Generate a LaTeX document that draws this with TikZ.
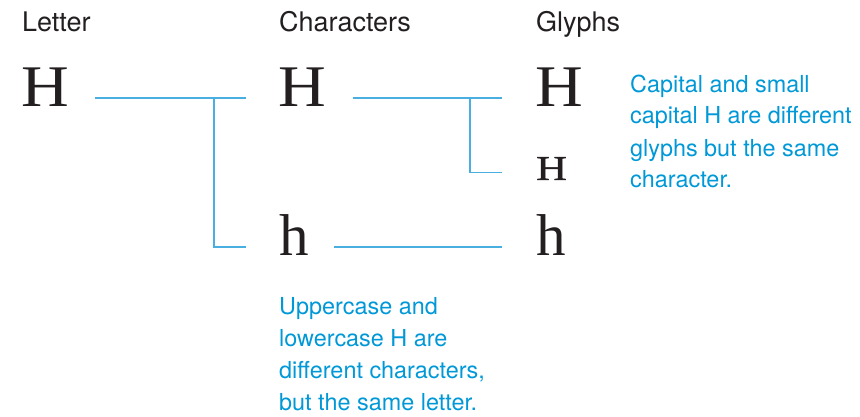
\documentclass[tikz,border=0pt]{standalone}
\usepackage{fontspec}
\setsansfont{TeX Gyre Heros}
\newfontfamily\formwide[FakeStretch=1.12]{Liberation Serif}
\newfontfamily\formnarrow{Liberation Serif}
\newfontfamily\formsmall[FakeStretch=1.22,FakeBold=1.2]{Liberation Serif}
\definecolor{ink}{HTML}{231F20}
\definecolor{notecyan}{RGB}{0,152,214}
\definecolor{rulecyan}{RGB}{72,175,224}

\begin{document}
\begin{tikzpicture}[
  x=1pt,
  y=-1pt,
  head/.style={font=\sffamily\fontsize{27}{27}\selectfont,text=ink,anchor=base west,inner sep=0pt},
  glyph/.style={font=\formwide\fontsize{59}{59}\selectfont,text=ink,anchor=base west,inner sep=0pt},
  smallglyph/.style={glyph,font=\formsmall\fontsize{35}{35}\selectfont},
  lowglyph/.style={glyph,font=\formnarrow\fontsize{59}{59}\selectfont},
  note/.style={font=\sffamily\fontsize{23.4}{32}\selectfont,text=notecyan,anchor=base west,inner sep=0pt,align=left},
  link/.style={draw=rulecyan,line width=1.8pt}
]
\useasboundingbox (0,0) rectangle (860,417);

% column heads
\node[head] (letter) at (22,32) {Letter};
\node[head] (chars)  at (279,32) {Characters};
\node[head] (glyphs) at (536,32) {Glyphs};

% the forms
\node[glyph] (letH)  at (21,107) {H};
\node[glyph] (charH) at (278,107) {H};
\node[lowglyph] (charh) at (279,255) {h};
\node[glyph] (glyH)  at (535,107) {H};
\node[smallglyph] (glySc) at (536,180) {H};
\node[lowglyph] (glyh)  at (536,255) {h};

% letter -> characters
\path ([xshift=193pt,yshift=9pt]letH.base west) coordinate (forkA);
\draw[link] ([xshift=74pt,yshift=9pt]letH.base west) -- ([xshift=-32pt,yshift=9pt]charH.base west);
\draw[link] (forkA) |- ([xshift=-33pt,yshift=8pt]charh.base west);

% characters -> glyphs
\path ([xshift=192pt,yshift=9pt]charH.base west) coordinate (forkB);
\draw[link] ([xshift=75pt,yshift=9pt]charH.base west) -- ([xshift=-33pt,yshift=9pt]glyH.base west);
\draw[link] (forkB) |- ([xshift=-34pt,yshift=7.5pt]glySc.base west);
\draw[link] ([xshift=55pt,yshift=8pt]charh.base west) -- ([xshift=-34pt,yshift=8pt]glyh.base west);

% remarks (anchored on the last line)
\node[note] (caseNote) at (279,410) {Uppercase and\\lowercase H are\\different characters,\\but the same letter.};
\node[note] (capNote)  at (630,188) {Capital and small\\capital H are different\\glyphs but the same\\character.};
\end{tikzpicture}
\end{document}
